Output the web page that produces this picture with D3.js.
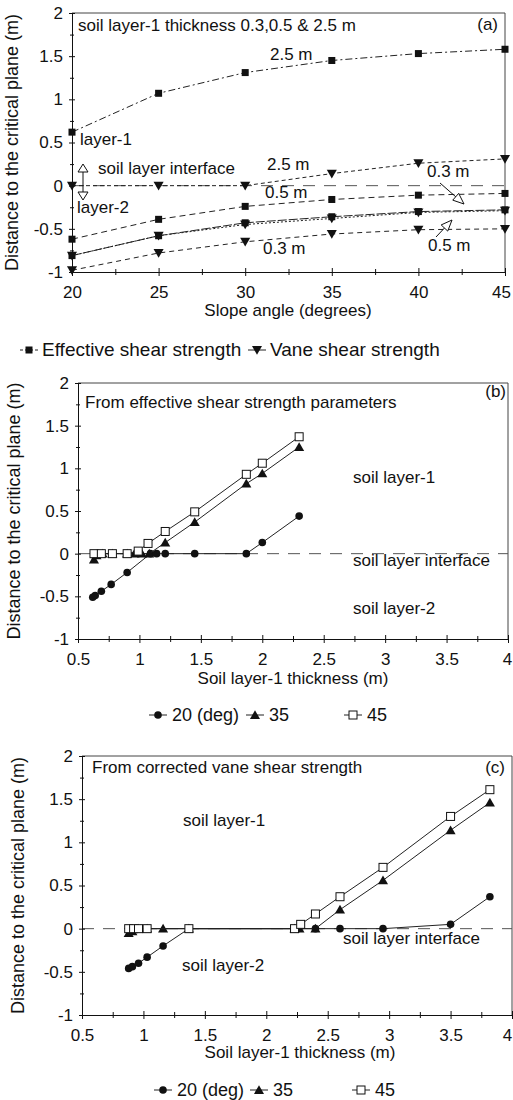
<!DOCTYPE html>
<html><head><meta charset="utf-8">
<script src="https://cdn.jsdelivr.net/npm/d3@7"></script>
<style>
body{margin:0;background:#fff}
text{font-family:"Liberation Sans",Arial,sans-serif;fill:#111}
</style>
</head><body>
<svg id="chart" width="513" height="1100"></svg>
<script>
// ---------- DATA ----------
// Panel (a)
const slopeAngles = [20, 25, 30, 35, 40, 45];
const effective25 = [0.62, 1.07, 1.31, 1.45, 1.53, 1.58];
const effective05 = [-0.62, -0.39, -0.24, -0.16, -0.11, -0.09];
const effective03 = [-0.81, -0.58, -0.43, -0.36, -0.30, -0.28];
const vane25 = [0, 0, 0, 0.14, 0.26, 0.31];
const vane05 = [-0.81, -0.58, -0.45, -0.38, -0.31, -0.29];
const vane03 = [-0.98, -0.78, -0.65, -0.56, -0.51, -0.50];

// Panel (b) – from effective shear strength parameters
const b20x = [0.62, 0.64, 0.69, 0.77, 0.90, 1.09, 1.14, 1.21, 1.45, 1.87, 2.00, 2.30];
const b20y = [-0.51, -0.49, -0.44, -0.36, -0.22, 0, 0, 0, 0, 0, 0.13, 0.44];
const b35x = [0.63, 0.65, 0.70, 0.78, 0.90, 0.96, 1.02, 1.08, 1.21, 1.45, 1.87, 2.00, 2.30];
const b35y = [-0.07, -0.02, 0, 0, 0, 0, 0, 0, 0.13, 0.37, 0.82, 0.94, 1.25];
const b45x = [0.63, 0.69, 0.78, 0.90, 0.99, 1.07, 1.21, 1.45, 1.87, 2.00, 2.30];
const b45y = [0, 0, 0, 0, 0.03, 0.12, 0.26, 0.49, 0.93, 1.06, 1.37];

// Panel (c) – from corrected vane shear strength
const c20x = [0.88, 0.91, 0.96, 1.03, 1.16, 1.37, 2.40, 2.60, 2.95, 3.50, 3.82];
const c20y = [-0.46, -0.44, -0.40, -0.33, -0.20, 0, 0, 0, 0, 0.05, 0.37];
const c35x = [0.88, 0.91, 0.96, 1.03, 1.16, 1.37, 2.23, 2.27, 2.40, 2.60, 2.95, 3.50, 3.82];
const c35y = [-0.05, -0.03, 0, 0, 0, 0, 0, 0, 0, 0.22, 0.56, 1.14, 1.46];
const c45x = [0.88, 0.92, 0.96, 1.03, 1.37, 2.23, 2.28, 2.40, 2.60, 2.95, 3.50, 3.82];
const c45y = [0, 0, 0, 0, 0, 0, 0.05, 0.17, 0.37, 0.71, 1.30, 1.61];

// Ticks
const yTicks = [-1, -0.5, 0, 0.5, 1, 1.5, 2];
const yTickLabels = ["-1", "-0.5", "0", "0.5", "1", "1.5", "2"];
const yMinor = [-0.75, -0.25, 0.25, 0.75, 1.25, 1.75];
const aXTicks = [20, 25, 30, 35, 40, 45];
const aXTickLabels = ["20", "25", "30", "35", "40", "45"];
const aXMinor = [22.5, 27.5, 32.5, 37.5, 42.5];
const tXTicks = [0.5, 1, 1.5, 2, 2.5, 3, 3.5, 4];
const tXTickLabels = ["0.5", "1", "1.5", "2", "2.5", "3", "3.5", "4"];
const tXMinor = [0.75, 1.25, 1.75, 2.25, 2.75, 3.25, 3.75];

// ---------- DRAW ----------
const svg = d3.select("#chart");
svg.append("rect").attr("width", 513).attr("height", 1100).attr("fill", "#fff");
const FS = 17;

function mk(g, type, x, y) {
  if (type === "square") {
    g.append("rect").attr("x", x - 3.5).attr("y", y - 3.5).attr("width", 7).attr("height", 7).attr("fill", "#111");
  } else if (type === "osquare") {
    g.append("rect").attr("x", x - 4).attr("y", y - 4).attr("width", 8).attr("height", 8).attr("fill", "#fff").attr("stroke", "#111").attr("stroke-width", 1);
  } else if (type === "circle") {
    g.append("circle").attr("cx", x).attr("cy", y).attr("r", 3.8).attr("fill", "#111");
  } else if (type === "tri") {
    g.append("path").attr("d", d3.symbol(d3.symbolTriangle, 44)()).attr("transform", `translate(${x},${y + 1})`).attr("fill", "#111");
  } else if (type === "itri") {
    g.append("path").attr("d", d3.symbol(d3.symbolTriangle, 44)()).attr("transform", `translate(${x},${y - 1}) rotate(180)`).attr("fill", "#111");
  }
}

function panel(o) {
  const x = d3.scaleLinear().domain(o.xd).range(o.xr);
  const y = d3.scaleLinear().domain([-1, 2]).range(o.yr);
  const g = svg.append("g");
  g.append("path").attr("d", `M${o.xr[0]},${o.yr[1]}H${o.xr[1]}V${o.yr[0]}`)
    .attr("fill", "none").attr("stroke", "#444").attr("stroke-width", 1);
  g.append("line").attr("x1", o.xr[0]).attr("x2", o.xr[1]).attr("y1", y(0)).attr("y2", y(0))
    .attr("stroke", "#555").attr("stroke-width", 1).attr("stroke-dasharray", "12,9");
  const ya = g.append("g").attr("transform", `translate(${o.xr[0]},0)`)
    .call(d3.axisLeft(y).tickValues(yTicks).tickFormat((d, i) => yTickLabels[i]).tickSize(3).tickPadding(6).tickSizeOuter(0));
  ya.selectAll(".tick line").attr("x1", 3);
  ya.append("g").call(d3.axisLeft(y).tickValues(yMinor).tickFormat("").tickSize(2).tickSizeOuter(0))
    .selectAll(".tick line").attr("x1", 2);
  const xa = g.append("g").attr("transform", `translate(0,${o.yr[0]})`)
    .call(d3.axisBottom(x).tickValues(o.xt).tickFormat((d, i) => o.xtl[i]).tickSize(4).tickPadding(10).tickSizeOuter(0));
  xa.selectAll(".tick line").attr("y1", -4);
  xa.append("g").call(d3.axisBottom(x).tickValues(o.xm).tickFormat("").tickSize(3).tickSizeOuter(0))
    .selectAll(".tick line").attr("y1", -3);
  [ya, xa].forEach(a => {
    a.selectAll("text").attr("font-size", FS).attr("font-family", '"Liberation Sans",Arial,sans-serif').attr("fill", "#111");
    a.selectAll("path.domain").attr("stroke", "#111");
    a.selectAll(".tick line").attr("stroke", "#111");
  });
  const last = xa.selectAll(".tick text").filter((d) => d === o.xt[o.xt.length - 1]);
  last.attr("dx", o.lastDx || 0);
  g.append("text").attr("transform", `translate(${o.ytx},${(o.yr[0] + o.yr[1]) / 2}) rotate(-90)`)
    .attr("text-anchor", "middle").attr("font-size", 18).text("Distance to the critical plane (m)");
  g.append("text").attr("x", o.xtx).attr("y", o.xty).attr("text-anchor", "middle").attr("font-size", FS).text(o.xtitle);
  return {x, y, g};
}

function series(p, xs, ys, type, dash) {
  const pts = xs.map((d, i) => [p.x(d), p.y(ys[i])]);
  p.g.append("path").attr("d", d3.line()(pts)).attr("fill", "none").attr("stroke", "#222")
    .attr("stroke-width", 1).attr("stroke-dasharray", dash || null);
  pts.forEach(q => mk(p.g, type, q[0], q[1]));
}

function label(g, x, y, t, anchor, fs) {
  g.append("text").attr("x", x).attr("y", y).attr("font-size", fs || FS).attr("text-anchor", anchor || "start").text(t);
}

// ----- Panel (a) -----
const A = panel({xd: [20, 45], xr: [72, 505], yr: [272, 13], xt: aXTicks, xtl: aXTickLabels, xm: aXMinor,
  ytx: 18, xtx: 288, xty: 316, xtitle: "Slope angle (degrees)", lastDx: -4});
series(A, slopeAngles, effective25, "square", "7,3,2,3");
series(A, slopeAngles, effective05, "square", "6,4");
series(A, slopeAngles, effective03, "square", "9,2");
series(A, slopeAngles, vane25, "itri", "4,3");
series(A, slopeAngles, vane05, "itri", "2,2");
series(A, slopeAngles, vane03, "itri", "5,4");
label(A.g, 78, 31, "soil layer-1 thickness 0.3,0.5 &  2.5 m");
label(A.g, 498, 30, "(a)", "end");
label(A.g, 270, 60, "2.5 m");
label(A.g, 80, 145, "layer-1");
label(A.g, 98, 174, "soil layer interface");
label(A.g, 267, 170, "2.5 m");
label(A.g, 427, 177, "0.3 m");
label(A.g, 265, 198, "0.5 m");
label(A.g, 77, 213, "layer-2");
label(A.g, 263, 254, "0.3 m");
label(A.g, 428, 251, "0.5 m");
A.g.append("line").attr("x1", 83).attr("x2", 83).attr("y1", 168).attr("y2", 196).attr("stroke", "#111");
A.g.append("path").attr("d", "M78,172 L83,164 L88,172 Z").attr("fill", "#fff").attr("stroke", "#111");
A.g.append("path").attr("d", "M78,192 L83,200 L88,192 Z").attr("fill", "#fff").attr("stroke", "#111");
function arrow(g, x1, y1, x2, y2) {
  g.append("line").attr("x1", x1).attr("y1", y1).attr("x2", x2).attr("y2", y2).attr("stroke", "#111");
  const ang = Math.atan2(y2 - y1, x2 - x1), L = 11, W = 4.5;
  const bx = x2 - L * Math.cos(ang), by = y2 - L * Math.sin(ang);
  const px = -Math.sin(ang) * W, py = Math.cos(ang) * W;
  g.append("path").attr("d", `M${x2},${y2}L${bx + px},${by + py}L${bx - px},${by - py}Z`)
    .attr("fill", "#fff").attr("stroke", "#111");
}
arrow(A.g, 440, 183, 464, 204);
arrow(A.g, 436, 237, 452, 220);
// legend (a)
{
  const ly = 350, lg = svg.append("g");
  let x0 = 20;
  lg.append("line").attr("x1", x0).attr("x2", x0 + 18).attr("y1", ly).attr("y2", ly).attr("stroke", "#222").attr("stroke-dasharray", "3,2");
  mk(lg, "square", x0 + 9, ly);
  label(lg, x0 + 22, ly + 6, "Effective shear strength", "start", 19);
  x0 = 248;
  lg.append("line").attr("x1", x0).attr("x2", x0 + 18).attr("y1", ly).attr("y2", ly).attr("stroke", "#222");
  mk(lg, "itri", x0 + 9, ly);
  label(lg, x0 + 22, ly + 6, "Vane shear strength", "start", 19);
}

// ----- Panel (b) -----
const B = panel({xd: [0.5, 4], xr: [78, 508], yr: [639, 383], xt: tXTicks, xtl: tXTickLabels, xm: tXMinor,
  ytx: 20, xtx: 293, xty: 684, xtitle: "Soil layer-1 thickness (m)", lastDx: -1});
series(B, b20x, b20y, "circle");
series(B, b35x, b35y, "tri");
series(B, b45x, b45y, "osquare");
label(B.g, 85, 408, "From effective shear strength parameters");
label(B.g, 506, 397, "(b)", "end");
label(B.g, 353, 483, "soil layer-1");
label(B.g, 353, 566, "soil layer interface");
label(B.g, 353, 614, "soil layer-2");

function triLegend(ly, pos) {
  const lg = svg.append("g");
  const types = ["circle", "tri", "osquare"], txt = ["20 (deg)", "35", "45"];
  pos.forEach((x0, i) => {
    lg.append("line").attr("x1", x0 - 9).attr("x2", x0 + 9).attr("y1", ly).attr("y2", ly).attr("stroke", "#222");
    mk(lg, types[i], x0, ly);
    label(lg, x0 + 14, ly + 6, txt[i], "start", 18);
  });
}
triLegend(715, [158, 255, 353]);

// ----- Panel (c) -----
const C = panel({xd: [0.5, 4], xr: [82, 512], yr: [1015, 756], xt: tXTicks, xtl: tXTickLabels, xm: tXMinor,
  ytx: 24, xtx: 300, xty: 1058, xtitle: "Soil layer-1 thickness (m)", lastDx: -5});
series(C, c20x, c20y, "circle");
series(C, c35x, c35y, "tri");
series(C, c45x, c45y, "osquare");
label(C.g, 92, 773, "From corrected vane shear strength");
label(C.g, 505, 773, "(c)", "end");
label(C.g, 183, 826, "soil layer-1");
label(C.g, 182, 971, "soil layer-2");
label(C.g, 343, 944, "soil layer interface");
triLegend(1090, [163, 259, 361]);
</script>
</body></html>
